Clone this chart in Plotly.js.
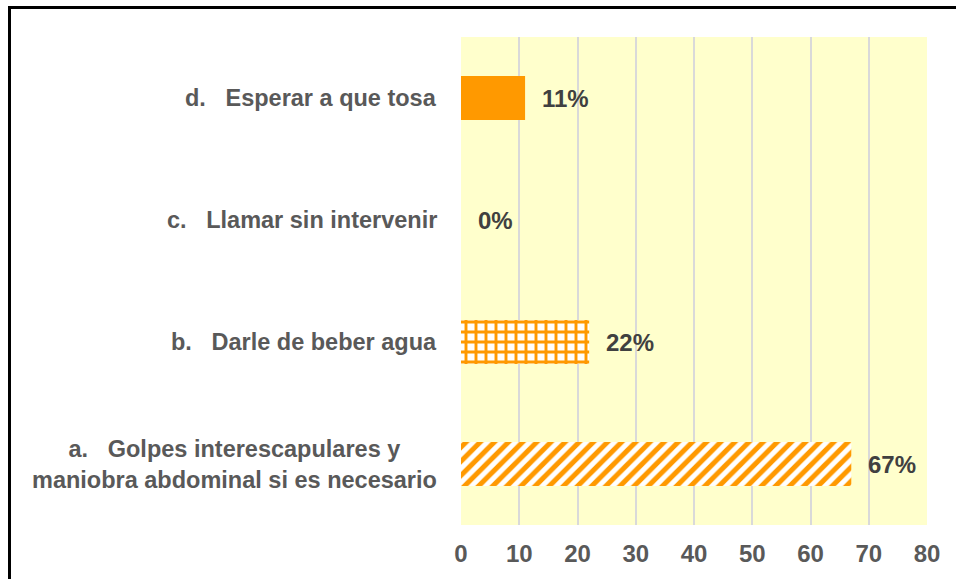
<!DOCTYPE html>
<html>
<head>
<meta charset="utf-8">
<script src="https://cdn.plot.ly/plotly-3.0.1.min.js"></script>
<style>
  html, body { margin: 0; padding: 0; background: #ffffff; overflow: hidden; }
  #chart { width: 956px; height: 579px; }
  #frame { position: absolute; left: 8px; top: 6px; width: 1200px; height: 1000px;
           border-left: 3px solid #000; border-top: 3px solid #000; pointer-events: none; }
</style>
</head>
<body>
<div id="chart"></div>
<div id="frame"></div>
<script>
// Data
const categories = [
  "a.   Golpes interescapulares y<br>maniobra abdominal si es necesario",
  "b.   Darle de beber agua",
  "c.   Llamar sin intervenir",
  "d.   Esperar a que tosa"
];
const values = [67, 22, 0, 11];
const valueLabels = ["67%", "22%", "0%", "11%"];
const patterns = ["/", "+", "", ""];
const tickVals = [0, 10, 20, 30, 40, 50, 60, 70, 80];

const orange = "#FF9900";
const gray = "#595959";
const fontFam = "Liberation Sans, Arial, sans-serif";

const trace = {
  type: "bar",
  orientation: "h",
  y: categories,
  x: values,
  width: 0.36,
  marker: {
    color: orange,
    line: { width: 0 },
    pattern: {
      shape: patterns,
      fgcolor: orange,
      bgcolor: "#ffffff",
      size: 10,
      solidity: 0.5,
      fillmode: "replace"
    }
  },
  hoverinfo: "skip",
  showlegend: false
};

const annotations = [];
categories.forEach((c, i) => {
  annotations.push({
    xref: "paper", yref: "y",
    x: -0.047, y: c,
    text: "<b>" + c + "</b>",
    showarrow: false,
    xanchor: "right", yanchor: "middle",
    align: "center",
    font: { family: fontFam, size: 23.5, color: gray }
  });
  annotations.push({
    xref: "x", yref: "y",
    x: values[i], y: c,
    text: "<b>" + valueLabels[i] + "</b>",
    showarrow: false,
    xanchor: "left", yanchor: "middle",
    xshift: 15,
    font: { family: fontFam, size: 24, color: "#404040" }
  });
});

const layout = {
  width: 956, height: 579,
  margin: { l: 461, r: 29, t: 37, b: 54, pad: 0 },
  paper_bgcolor: "#ffffff",
  plot_bgcolor: "#FFFFCC",
  bargap: 0.64,
  xaxis: {
    range: [0, 80],
    tickvals: tickVals,
    ticktext: tickVals.map(v => "<b>" + v + "</b>"),
    showgrid: true,
    gridcolor: "#D9D9D9",
    gridwidth: 2,
    zeroline: false,
    showline: false,
    ticks: "",
    ticklabelstandoff: 12,
    tickfont: { family: fontFam, size: 24, color: gray },
    fixedrange: true
  },
  yaxis: {
    type: "category",
    showticklabels: false,
    showgrid: false,
    zeroline: false,
    showline: false,
    ticks: "",
    fixedrange: true
  },
  annotations: annotations,
  showlegend: false
};

Plotly.newPlot("chart", [trace], layout, { displayModeBar: false, staticPlot: true });
</script>
</body>
</html>
